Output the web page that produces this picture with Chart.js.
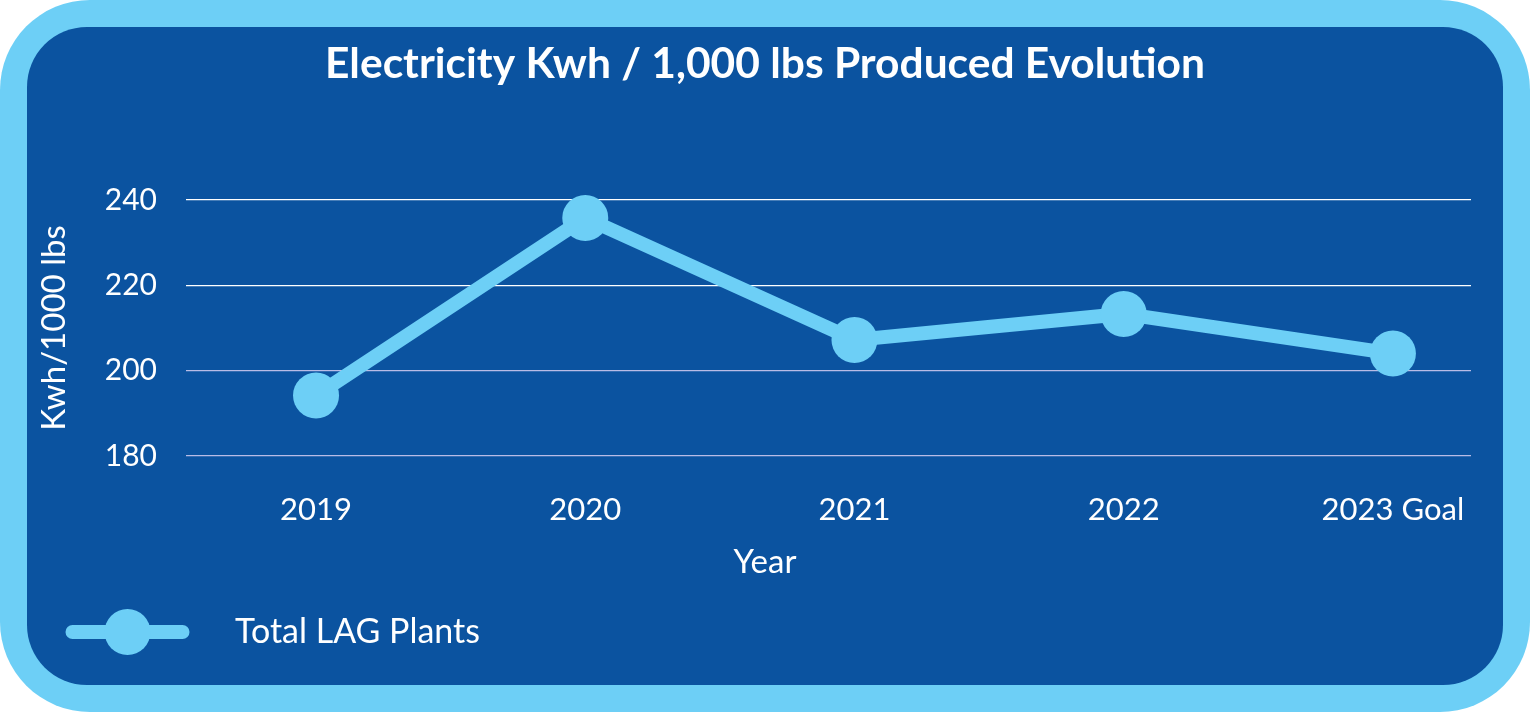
<!DOCTYPE html>
<html lang="en">
<head>
    <meta charset="UTF-8">
    <title>Electricity Kwh / 1,000 lbs Produced Evolution</title>
    <script src="https://cdn.jsdelivr.net/npm/chart.js"></script>
    <style>
        html, body { margin: 0; padding: 0; background: #ffffff; }
        .frame {
            width: 1530px; height: 712px;
            background: #6dcff6;
            border-radius: 90px;
            box-sizing: border-box;
            padding: 27px;
        }
        .panel {
            width: 1476px; height: 658px;
            background: #0b53a0;
            border-radius: 60px;
        }
        #chart { display: block; }
    </style>
</head>
<body>
    <div class="frame">
        <div class="panel">
            <canvas id="chart" width="1476" height="658"></canvas>
        </div>
    </div>

    <script>
        // data
        const years = ['2019', '2020', '2021', '2022', '2023 Goal'];
        const kwhPer1000 = [194.2, 235.8, 207.2, 213.3, 204.0];
        const yTicks = [180, 200, 220, 240];
        const xTitle = 'Year';

        const LIGHT = '#6dcff6';
        const FONT = 'Lato, "Open Sans", sans-serif';

        // legend sample: thick line with a dot in the middle
        function legendSample() {
            const c = document.createElement('canvas');
            c.width = 181; c.height = 48;
            const g = c.getContext('2d');
            g.strokeStyle = LIGHT;
            g.lineWidth = 14;
            g.lineCap = 'round';
            g.beginPath();
            g.moveTo(90.5 - 55, 24);
            g.lineTo(90.5 + 55, 24);
            g.stroke();
            g.fillStyle = LIGHT;
            g.beginPath();
            g.arc(90.5, 24, 23, 0, Math.PI * 2);
            g.fill();
            return c;
        }
        const sample = legendSample();

        // the x axis title sits centred on the whole panel, not on the plot area
        const centredXTitle = {
            id: 'centredXTitle',
            afterDraw(chart) {
                const ctx = chart.ctx;
                const xs = chart.scales.x;
                ctx.save();
                ctx.fillStyle = '#ffffff';
                ctx.font = '33px ' + FONT;
                ctx.textAlign = 'center';
                ctx.textBaseline = 'middle';
                ctx.fillText(xTitle, chart.width / 2, xs.bottom - 23 - 19.8);
                ctx.restore();
            }
        };

        new Chart(document.getElementById('chart'), {
            type: 'line',
            data: {
                datasets: [{
                    label: 'Total LAG Plants',
                    data: kwhPer1000.map((v, i) => ({ x: i, y: v })),
                    borderColor: LIGHT,
                    backgroundColor: LIGHT,
                    borderWidth: 14,
                    pointStyle: 'circle',
                    pointRadius: 23,
                    pointHoverRadius: 23,
                    pointBorderWidth: 0,
                    pointBackgroundColor: LIGHT,
                    tension: 0,
                    clip: false
                }]
            },
            plugins: [centredXTitle],
            options: {
                responsive: false,
                animation: false,
                layout: { padding: { left: 0, right: 0, top: 0, bottom: 26 } },
                plugins: {
                    title: {
                        display: true,
                        text: 'Electricity Kwh / 1,000 lbs Produced Evolution',
                        color: '#ffffff',
                        font: { family: FONT, size: 42.5, weight: 'bold' },
                        padding: { top: 12, bottom: 110 }
                    },
                    legend: {
                        position: 'bottom',
                        align: 'start',
                        labels: {
                            color: '#ffffff',
                            font: { family: FONT, size: 34 },
                            usePointStyle: true,
                            pointStyleWidth: 181,
                            padding: 10,
                            generateLabels: (chart) => [{
                                text: chart.data.datasets[0].label,
                                pointStyle: sample,
                                fontColor: '#ffffff',
                                datasetIndex: 0,
                                hidden: false,
                                lineWidth: 0
                            }]
                        }
                    },
                    tooltip: { enabled: false }
                },
                scales: {
                    x: {
                        type: 'linear',
                        min: -0.483,
                        max: 4.29,
                        afterBuildTicks: (scale) => {
                            scale.ticks = years.map((_, i) => ({ value: i }));
                        },
                        afterFit: (scale) => { scale.height = 149; },
                        grid: { display: false, drawTicks: false },
                        border: { display: false },
                        ticks: {
                            color: '#ffffff',
                            font: { family: FONT, size: 31 },
                            padding: 35,
                            maxRotation: 0,
                            autoSkip: false,
                            callback: (v) => years[v]
                        },
                        title: { display: false }
                    },
                    y: {
                        min: 180,
                        max: 240,
                        afterBuildTicks: (scale) => {
                            scale.ticks = yTicks.map(v => ({ value: v }));
                        },
                        afterFit: (scale) => { scale.width = 159; },
                        grid: {
                            drawTicks: false,
                            lineWidth: 1.2,
                            color: (ctx) => (ctx.tick && ctx.tick.value <= 200) ? '#b9bce6' : '#ffffff'
                        },
                        border: { display: false },
                        ticks: {
                            color: '#ffffff',
                            font: { family: FONT, size: 30 },
                            padding: 29
                        },
                        title: {
                            display: true,
                            text: 'Kwh/1000 lbs',
                            color: '#ffffff',
                            font: { family: FONT, size: 33 },
                            padding: { top: 8, bottom: 8 }
                        }
                    },
                    // empty right-hand strip so the title stays centred on the panel
                    yRight: {
                        position: 'right',
                        display: true,
                        afterFit: (scale) => { scale.width = 32; },
                        grid: { display: false, drawTicks: false },
                        border: { display: false },
                        ticks: { display: false }
                    }
                }
            }
        });
    </script>
</body>
</html>
